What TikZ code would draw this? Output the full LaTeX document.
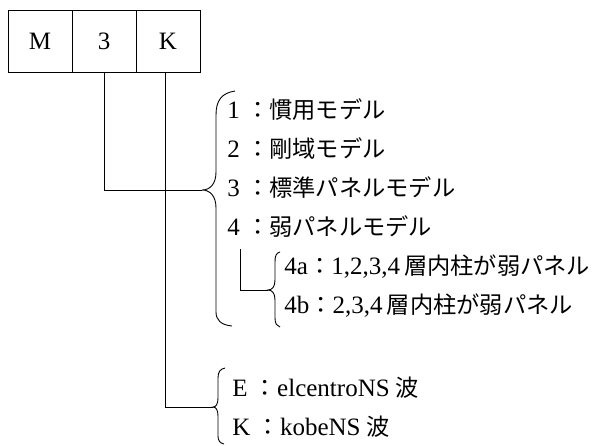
\documentclass[tikz,border=0pt]{standalone}
\usepackage{fontspec}
\setmainfont{Liberation Serif}
\newfontfamily\jp{Noto Sans CJK JP}[Scale=0.93]
\newcommand{\J}[1]{{\jp #1}}
\begin{document}
\begin{tikzpicture}[x=1pt,y=-1pt,line width=0.9pt,
  box/.style={draw,minimum width=64pt,minimum height=62pt,inner sep=0pt,font=\fontsize{25}{29}\selectfont},
  lbl/.style={anchor=base west,inner sep=0pt,font=\fontsize{25}{29}\selectfont},
  brace/.style={line width=0.9pt},
  conn/.style={line width=0.9pt}]
\useasboundingbox (0,0) rectangle (593,445);
% boxes
\node[box] (bm) at (40,41) {M};
\node[box] (b3) at (104,41) {3};
\node[box] (bk) at (168,41) {K};
% brace tips
\coordinate (tipA) at (202,190);
\coordinate (tipB) at (268,290);
\coordinate (tipC) at (213,407);
\coordinate (lfree) at (240,249);
% connectors
\draw[conn] (b3.south) |- (tipA);
\draw[conn] ([xshift=-3pt]bk.south) |- (tipC);
\draw[conn] (lfree) |- (tipB);
% big brace
\draw[brace] (235,91) .. controls (222,93) and (216,100) .. (216,115) -- (216,172)
  .. controls (216,184) and (210,190) .. (tipA)
  .. controls (210,190) and (216,196) .. (216,208) -- (216,312)
  .. controls (216,320) and (221,325) .. (232,326);
% sub brace
\draw[brace] (280,252) .. controls (276,253) and (275,256) .. (275,262) -- (275,280)
  .. controls (275,287) and (272,290) .. (tipB)
  .. controls (272,290) and (275,293) .. (275,300) -- (275,318)
  .. controls (275,324) and (277,326) .. (280,327);
% bottom brace
\draw[brace] (225,368) .. controls (220,369) and (218,372) .. (218,378) -- (218,398)
  .. controls (218,404) and (216,407) .. (tipC)
  .. controls (216,407) and (218,410) .. (218,416) -- (218,436)
  .. controls (218,441) and (220,443) .. (224,444);
% labels
\node[lbl] (t1) at (227,118) {1 \J{：慣用モデル}};
\node[lbl] (t2) at (227,157) {2 \J{：剛域モデル}};
\node[lbl] (t3) at (227,196) {3 \J{：標準パネルモデル}};
\node[lbl] (t4) at (227,235) {4 \J{：弱パネルモデル}};
\node[lbl] (t4a) at (284,274) {4a\J{：}1,2,3,4\,\J{層内柱が弱パネル}};
\node[lbl] (t4b) at (284,313) {4b\J{：}2,3,4\,\J{層内柱が弱パネル}};
\node[lbl] (te) at (232,396) {E \J{：}elcentroNS \J{波}};
\node[lbl] (tk) at (232,435) {K \J{：}kobeNS \J{波}};
\end{tikzpicture}
\end{document}
